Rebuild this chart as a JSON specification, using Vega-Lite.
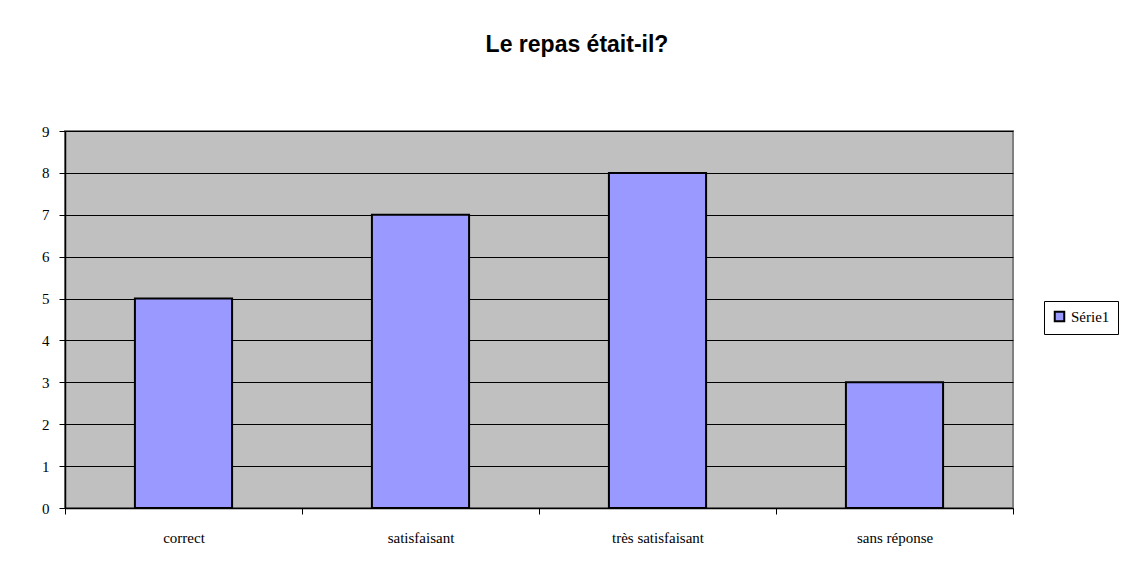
{
  "$schema": "https://vega.github.io/schema/vega-lite/v6.json",
  "autosize": {"type": "none"},
  "width": 948,
  "height": 377,
  "padding": {"left": 65, "top": 131, "right": 117, "bottom": 74},
  "background": "white",
  "data": {"values": [
    {"reponse": "correct", "nombre": 5, "serie": "Série1"},
    {"reponse": "satisfaisant", "nombre": 7, "serie": "Série1"},
    {"reponse": "très satisfaisant", "nombre": 8, "serie": "Série1"},
    {"reponse": "sans réponse", "nombre": 3, "serie": "Série1"}
  ]},
  "title": {
    "text": "Le repas était-il?",
    "font": "Liberation Sans",
    "fontSize": 23,
    "fontWeight": "bold",
    "color": "black",
    "anchor": "middle",
    "dx": 38,
    "offset": 67
  },
  "mark": {"type": "bar", "stroke": "black", "strokeWidth": 2, "width": {"band": 0.41}},
  "encoding": {
    "x": {
      "field": "reponse",
      "type": "nominal",
      "sort": null,
      "scale": {"paddingInner": 0, "paddingOuter": 0},
      "axis": {
        "title": null,
        "labelAngle": 0,
        "labelFont": "Liberation Serif",
        "labelFontSize": 15,
        "labelColor": "black",
        "labelPadding": 16,
        "tickBand": "extent",
        "tickColor": "black",
        "tickSize": 6,
        "domainColor": "black",
        "domainWidth": 1.5,
        "grid": false
      }
    },
    "y": {
      "field": "nombre",
      "type": "quantitative",
      "scale": {"domain": [0, 9], "nice": false},
      "axis": {
        "title": null,
        "values": [0, 1, 2, 3, 4, 5, 6, 7, 8, 9],
        "labelFont": "Liberation Serif",
        "labelFontSize": 15,
        "labelColor": "black",
        "labelPadding": 10,
        "tickColor": "black",
        "tickSize": 6,
        "domainColor": "black",
        "domainWidth": 1.5,
        "grid": true,
        "gridColor": "black",
        "gridWidth": 1,
        "gridOpacity": 1
      }
    },
    "color": {
      "field": "serie",
      "type": "nominal",
      "scale": {"range": ["#9999FF"]},
      "legend": {
        "title": null,
        "orient": "none",
        "legendX": 979,
        "legendY": 170,
        "symbolType": "square",
        "symbolSize": 90,
        "symbolStrokeColor": "black",
        "symbolStrokeWidth": 2,
        "symbolOpacity": 1,
        "labelFont": "Liberation Serif",
        "labelFontSize": 15,
        "labelColor": "black",
        "strokeColor": "black",
        "fillColor": "white",
        "padding": 8
      }
    }
  },
  "config": {
    "view": {"fill": "#C0C0C0", "stroke": "#808080", "strokeWidth": 2}
  }
}
